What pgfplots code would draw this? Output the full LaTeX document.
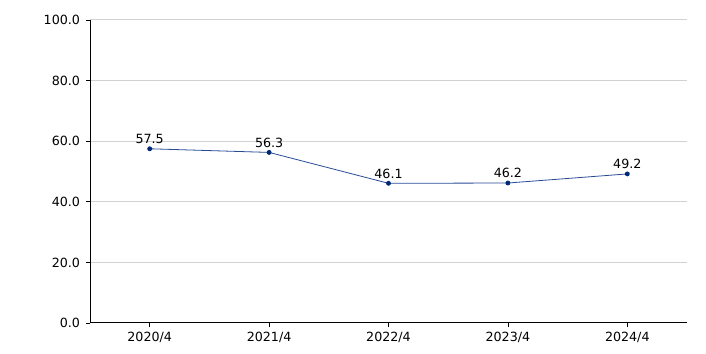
\documentclass[border=0pt]{standalone}
\usepackage{fontspec}
\setmainfont{DejaVu Sans}
\usepackage{pgfplots}
\pgfplotsset{compat=1.18}
\definecolor{linec}{RGB}{40,75,150}
\definecolor{markc}{RGB}{0,40,120}
\definecolor{gridc}{RGB}{210,210,210}
\begin{document}
\begin{tikzpicture}
\path[use as bounding box] (0,0) rectangle (529.5pt,264.75pt);
\begin{axis}[
  at={(67.5pt,22.5pt)}, anchor=south west,
  scale only axis, width=447.75pt, height=227.25pt,
  xmin=-0.5, xmax=4.5, ymin=0, ymax=100,
  xtick={0,1,2,3,4},
  xticklabels={2020/4,2021/4,2022/4,2023/4,2024/4},
  ytick={0,20,40,60,80,100},
  /pgf/number format/assume math mode=true,
  axis line style={black, line width=0.75pt},
  axis x line*=bottom, axis y line*=left,
  tick align=outside, major tick length=3pt,
  tick style={black, line width=0.6pt},
  ymajorgrids, grid style={gridc, line width=0.75pt},
  font=\fontsize{9.5pt}{10.5pt}\selectfont,
  ticklabel style={font=\fontsize{9.5pt}{10.5pt}\selectfont},
  xticklabel style={yshift=-0.5pt},
  yticklabel style={xshift=-1pt, /pgf/number format/.cd,fixed,fixed zerofill,precision=1},
  nodes near coords,
  nodes near coords style={font=\fontsize{9.5pt}{10.5pt}\selectfont, black, /pgf/number format/.cd, fixed, fixed zerofill, precision=1, assume math mode=true},
  clip=false,
]
\addplot[color=linec, line width=0.6pt, mark=*, mark size=1.5pt, mark options={fill=markc, draw=markc}]
  coordinates {(0,57.5) (1,56.3) (2,46.1) (3,46.2) (4,49.2)};
\end{axis}
\end{tikzpicture}
\end{document}
